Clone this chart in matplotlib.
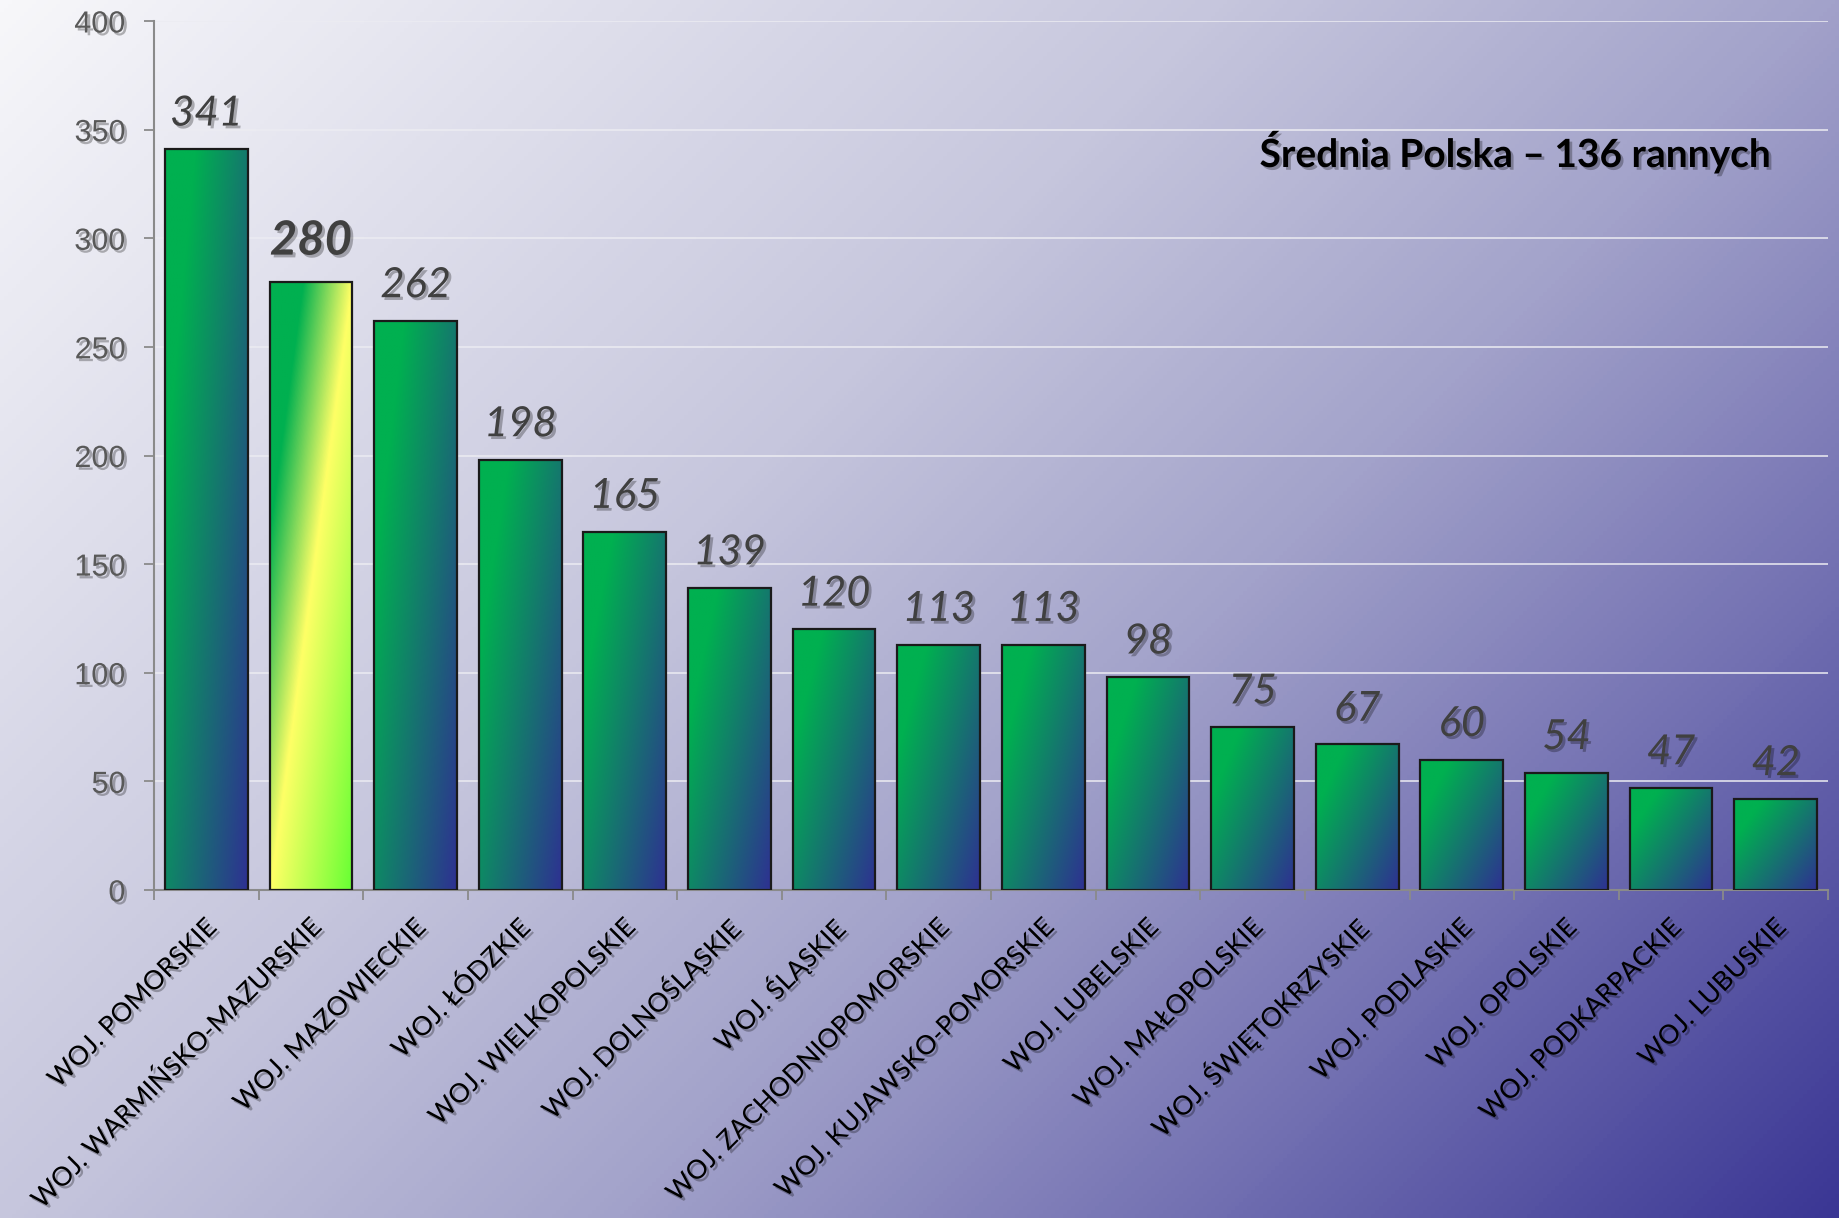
import numpy as np
import matplotlib
matplotlib.use("Agg")
import matplotlib.pyplot as plt
from matplotlib.colors import LinearSegmentedColormap
import matplotlib.patheffects as pe

# ---------------- data ----------------
categories = [
    "WOJ. POMORSKIE", "WOJ. WARMIŃSKO-MAZURSKIE", "WOJ. MAZOWIECKIE",
    "WOJ. ŁÓDZKIE", "WOJ. WIELKOPOLSKIE", "WOJ. DOLNOŚLĄSKIE", "WOJ. ŚLĄSKIE",
    "WOJ. ZACHODNIOPOMORSKIE", "WOJ. KUJAWSKO-POMORSKIE", "WOJ. LUBELSKIE",
    "WOJ. MAŁOPOLSKIE", "WOJ. ŚWIĘTOKRZYSKIE", "WOJ. PODLASKIE",
    "WOJ. OPOLSKIE", "WOJ. PODKARPACKIE", "WOJ. LUBUSKIE",
]
values = [341, 280, 262, 198, 165, 139, 120, 113, 113, 98, 75, 67, 60, 54, 47, 42]
highlight = "WOJ. WARMIŃSKO-MAZURSKIE"
y_ticks = [0, 50, 100, 150, 200, 250, 300, 350, 400]
note_text = "Średnia Polska – 136 rannych"

# ---------------- figure ----------------
W, H = 1839, 1218
fig = plt.figure(figsize=(W / 100, H / 100), dpi=100)

# background diagonal gradient
bg = fig.add_axes([0, 0, 1, 1], zorder=0)
xx, yy = np.meshgrid(np.linspace(0, W, 460), np.linspace(0, H, 305))
tbg = (xx + yy) / (W + H)
bg_cmap = LinearSegmentedColormap.from_list(
    "bg", [(0.0, "#f7f7fa"), (0.4, "#c6c6dd"), (0.6, "#a2a2ca"),
           (0.8, "#6f6db0"), (1.0, "#3a3694")])
bg.imshow(tbg, cmap=bg_cmap, extent=[0, 1, 0, 1], origin="upper",
          aspect="auto", vmin=0, vmax=1)
bg.set_axis_off()

ax = fig.add_axes([154 / W, 1 - 890 / H, (1828 - 154) / W, (890 - 21) / H], zorder=1)
ax.patch.set_visible(False)

shadow = [pe.withSimplePatchShadow(offset=(2, -2), shadow_rgbFace="black", alpha=0.28)]

x = np.arange(len(categories))
bars = ax.bar(x, values, width=0.79, facecolor="none", edgecolor="#1a1a1a",
              linewidth=1.6, zorder=3)

bar_cmap = LinearSegmentedColormap.from_list(
    "bar", [(0.0, "#00b050"), (0.2, "#00b050"), (1.0, "#2e3192")])
hi_cmap = LinearSegmentedColormap.from_list(
    "hi", [(0.0, "#00b050"), (0.2, "#00b050"), (0.5, "#ffff66"), (1.0, "#66ff33")])
u, v = np.meshgrid(np.linspace(0, 1, 80), np.linspace(0, 1, 300))
tb_norm = 0.55 * u + 0.45 * (1 - v)
tb_hi = (u + 1 - v) / 2

for b, cat in zip(bars, categories):
    x0, w, h = b.get_x(), b.get_width(), b.get_height()
    if cat == highlight:
        cm, tb = hi_cmap, tb_hi
    else:
        cm, tb = bar_cmap, tb_norm
    im = ax.imshow(tb, cmap=cm, extent=[x0, x0 + w, 0, h], origin="lower",
                   aspect="auto", vmin=0, vmax=1, zorder=2, interpolation="bilinear")
    im.set_clip_path(b)

ax.set_xlim(-0.5, len(categories) - 0.5)
ax.set_ylim(0, 400)

# grid & spines
ax.set_yticks(y_ticks)
ax.yaxis.grid(True, color="#ececf2", linewidth=1.3, alpha=0.85)
ax.set_axisbelow(True)
for s in ["top", "right"]:
    ax.spines[s].set_visible(False)
for s in ["left", "bottom"]:
    ax.spines[s].set_color("#8a8a8a")
    ax.spines[s].set_linewidth(1.5)

ax.tick_params(axis="y", length=7.5, width=1.3, color="#8a8a8a", pad=13,
               labelsize=22, labelcolor="#595959")
for lbl in ax.get_yticklabels():
    lbl.set_fontfamily("Liberation Sans")
    lbl.set_path_effects(shadow)

ax.set_xticks([])
ax.set_xticks(np.arange(-0.5, len(categories), 1), minor=True)
ax.tick_params(axis="x", which="minor", length=7.5, width=1.3, color="#8a8a8a",
               labelbottom=False)

# category labels
for xi, cat in zip(x, categories):
    ax.annotate(cat, (xi, 0), xytext=(6, -34), textcoords="offset pixels",
                rotation=45, rotation_mode="anchor", ha="right", va="center",
                fontfamily="Lato", fontsize=19, color="black",
                path_effects=shadow, annotation_clip=False)

# value labels
for xi, val, cat in zip(x, values, categories):
    if cat == highlight:
        ax.annotate(str(val), (xi, val), xytext=(0, 19.5), textcoords="offset points",
                    ha="center", va="baseline", fontfamily="Lato", fontstyle="italic",
                    fontweight="bold", fontsize=34, color="#404040",
                    path_effects=shadow)
    else:
        ax.annotate(str(val), (xi, val), xytext=(0, 17), textcoords="offset points",
                    ha="center", va="baseline", fontfamily="Lato", fontstyle="italic",
                    fontsize=30, color="#404040", path_effects=shadow)

fig.text(1515 / W, 1 - 152 / H, note_text, ha="center", va="center",
         fontfamily="Lato", fontweight="bold", fontsize=28, color="black",
         path_effects=shadow)

fig.savefig("out.png", dpi=100)
